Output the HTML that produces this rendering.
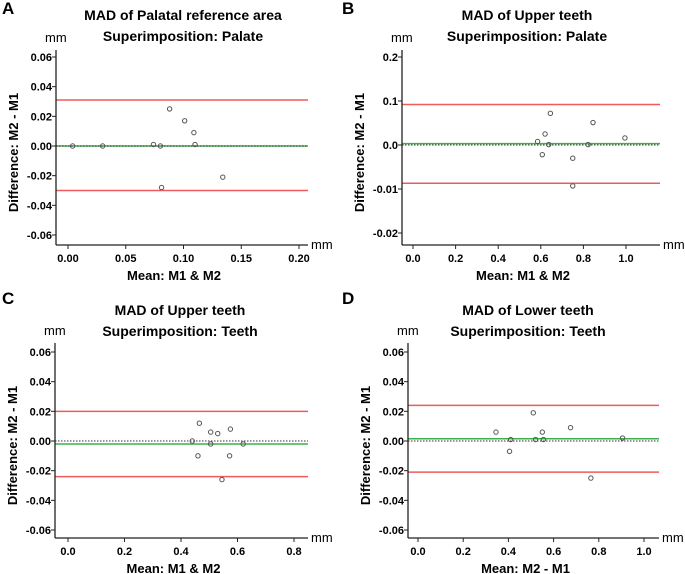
<!DOCTYPE html>
<html><head><meta charset="utf-8"><style>
body{margin:0;background:#fff;}
svg{display:block;font-family:"Liberation Sans",Arial,sans-serif;}
</style></head><body>
<svg id="chart" width="685" height="574" viewBox="0 0 685 574"></svg>
<script>
// Panel A
const aX = [0.004,0.030,0.074,0.080,0.088,0.101,0.109,0.110,0.081,0.134];
const aY = [0.000,0.000,0.001,0.000,0.025,0.017,0.009,0.001,-0.028,-0.021];
const aLimits = [0.031,-0.030];
const aMean = 0.0;
const aXTicks = [0,0.05,0.10,0.15,0.20];
const aXTickLabels = ["0.00","0.05","0.10","0.15","0.20"];
const aYTicks = [0.06,0.04,0.02,0,-0.02,-0.04,-0.06];
const aYTickLabels = ["0.06","0.04","0.02","0.00","-0.02","-0.04","-0.06"];
// Panel B
const bX = [0.585,0.620,0.645,0.637,0.607,0.750,0.750,0.822,0.845,0.995];
const bY = [0.008,0.025,0.072,0.001,-0.022,-0.030,-0.093,0.001,0.051,0.016];
const bLimits = [0.092,-0.087];
const bMean = 0.003;
const bXTicks = [0,0.2,0.4,0.6,0.8,1.0];
const bXTickLabels = ["0.0","0.2","0.4","0.6","0.8","1.0"];
const bYTicks = [0.2,0.1,0,-0.1,-0.2];
const bYTickLabels = ["0.2","0.1","0.0","-0.01","-0.02"];
// Panel C
const cX = [0.440,0.465,0.460,0.505,0.505,0.530,0.575,0.572,0.545,0.620];
const cY = [0.000,0.012,-0.010,0.006,-0.002,0.005,0.008,-0.010,-0.026,-0.002];
const cLimits = [0.020,-0.024];
const cMean = -0.002;
const cXTicks = [0,0.2,0.4,0.6,0.8];
const cXTickLabels = ["0.0","0.2","0.4","0.6","0.8"];
const cYTicks = [0.06,0.04,0.02,0,-0.02,-0.04,-0.06];
const cYTickLabels = ["0.06","0.04","0.02","0.00","-0.02","-0.04","-0.06"];
// Panel D
const dX = [0.345,0.410,0.405,0.510,0.520,0.550,0.555,0.675,0.765,0.905];
const dY = [0.006,0.001,-0.007,0.019,0.001,0.006,0.001,0.009,-0.025,0.002];
const dLimits = [0.024,-0.021];
const dMean = 0.0015;
const dXTicks = [0,0.2,0.4,0.6,0.8,1.0];
const dXTickLabels = ["0.0","0.2","0.4","0.6","0.8","1.0"];
const dYTicks = [0.06,0.04,0.02,0,-0.02,-0.04,-0.06];
const dYTickLabels = ["0.06","0.04","0.02","0.00","-0.02","-0.04","-0.06"];

const NS="http://www.w3.org/2000/svg";
const svg=document.getElementById('chart');
function mk(tag,attrs,parent,text){const e=document.createElementNS(NS,tag);for(const k in attrs)e.setAttribute(k,attrs[k]);if(text!==undefined)e.textContent=text;(parent||svg).appendChild(e);return e;}

const panels=[
 {id:'a',letter:'A',t1:'MAD of Palatal reference area',t2:'Superimposition: Palate',xl:'Mean: M1 & M2',
  ax:56,xr:308,top:50,bot:245,x0:68,x1:299,xv0:0,xv1:0.20,y0:57,y1:235,yv0:0.06,yv1:-0.06,tx:183,ty:15,
  X:aX,Y:aY,L:aLimits,M:aMean,XT:aXTicks,XTL:aXTickLabels,YT:aYTicks,YTL:aYTickLabels,greenOnly:false},
 {id:'b',letter:'B',t1:'MAD of Upper teeth',t2:'Superimposition: Palate',xl:'Mean: M1 & M2',
  ax:402,xr:660,top:50,bot:245,x0:413,x1:626,xv0:0,xv1:1.0,y0:57,y1:233,yv0:0.2,yv1:-0.2,tx:527,ty:15,
  X:bX,Y:bY,L:bLimits,M:bMean,XT:bXTicks,XTL:bXTickLabels,YT:bYTicks,YTL:bYTickLabels},
 {id:'c',letter:'C',t1:'MAD of Upper teeth',t2:'Superimposition: Teeth',xl:'Mean: M1 & M2',
  ax:55,xr:308,top:343,bot:538,x0:68,x1:294,xv0:0,xv1:0.8,y0:352,y1:530,yv0:0.06,yv1:-0.06,tx:180,ty:310,
  X:cX,Y:cY,L:cLimits,M:cMean,XT:cXTicks,XTL:cXTickLabels,YT:cYTicks,YTL:cYTickLabels},
 {id:'d',letter:'D',t1:'MAD of Lower teeth',t2:'Superimposition: Teeth',xl:'Mean: M2 - M1',
  ax:408,xr:659,top:343,bot:538,x0:418,x1:644,xv0:0,xv1:1.0,y0:352,y1:530,yv0:0.06,yv1:-0.06,tx:528,ty:310,
  X:dX,Y:dY,L:dLimits,M:dMean,XT:dXTicks,XTL:dXTickLabels,YT:dYTicks,YTL:dYTickLabels}
];
const lx=[2,342,2,342], ly=[14,14,304,304];
panels.forEach((p,i)=>{
 const g=mk('g',{});
 
 
 const sx=v=>p.x0+(v-p.xv0)*(p.x1-p.x0)/(p.xv1-p.xv0);
 const sy=v=>p.y0+(v-p.yv0)*(p.y1-p.y0)/(p.yv1-p.yv0);
 const L=mk('text',{x:lx[i],y:ly[i],'font-size':17,'font-weight':'bold'},g,p.letter);
 
 const t1=mk('text',{x:p.tx,y:p.ty+5,'font-size':14,'font-weight':'bold','text-anchor':'middle'},g,p.t1);
 
 const t2=mk('text',{x:p.tx,y:p.ty+26,'font-size':14,'font-weight':'bold','text-anchor':'middle'},g,p.t2);
 
 const mm1=mk('text',{x:p.ax-11,y:p.top-8,'font-size':13},g,'mm');
 
 const mm2=mk('text',{x:p.xr+3,y:p.bot+4,'font-size':13},g,'mm');
 
 // limit lines
 p.L.forEach(v=>{const l=mk('line',{x1:p.ax,x2:p.xr,y1:sy(v),y2:sy(v),stroke:'#ef5b5b','stroke-width':1.5},g);
  });
 const gm=mk('line',{x1:p.ax,x2:p.xr,y1:sy(p.M),y2:sy(p.M),stroke:'#3cb04a','stroke-width':1.5},g);
 
 const zl=mk('line',{x1:p.ax,x2:p.xr,y1:sy(0),y2:sy(0),stroke:'#333','stroke-width':1,'stroke-dasharray':'1.5,1.5'},g);
 
 // axes
 const ya=mk('line',{x1:p.ax,x2:p.ax,y1:p.top,y2:p.bot,stroke:'#222','stroke-width':1.3},g);
 
 const xa=mk('line',{x1:p.ax,x2:p.xr,y1:p.bot,y2:p.bot,stroke:'#222','stroke-width':1.3},g);
 
 p.YT.forEach((v,k)=>{const y=sy(v);
  mk('line',{x1:p.ax-4,x2:p.ax,y1:y,y2:y,stroke:'#222'},g);
  const t=mk('text',{x:p.ax-4,y:y+4,'font-size':11,'font-weight':'bold','text-anchor':'end'},g,p.YTL[k]);
  });
 p.XT.forEach((v,k)=>{const x=sx(v);
  mk('line',{x1:x,x2:x,y1:p.bot,y2:p.bot+4,stroke:'#222'},g);
  const t=mk('text',{x:x,y:p.bot+17,'font-size':11,'font-weight':'bold','text-anchor':'middle'},g,p.XTL[k]);
  });
 const xlab=mk('text',{x:(p.ax+p.xr)/2-8,y:p.bot+35,'font-size':13,'font-weight':'bold','text-anchor':'middle'},g,p.xl);
 
 const yc=(p.top+p.bot)/2+5, yx=p.ax-38;
 const ylab=mk('text',{x:yx,y:yc,'font-size':13,'font-weight':'bold','text-anchor':'middle',transform:`rotate(-90 ${yx} ${yc})`},g,'Difference: M2 - M1');
 
 p.X.forEach((xv,k)=>{const c=mk('circle',{cx:sx(xv),cy:sy(p.Y[k]),r:2.2,fill:'none',stroke:'#555','stroke-width':1},g);
  });
});
</script>
</body></html>
